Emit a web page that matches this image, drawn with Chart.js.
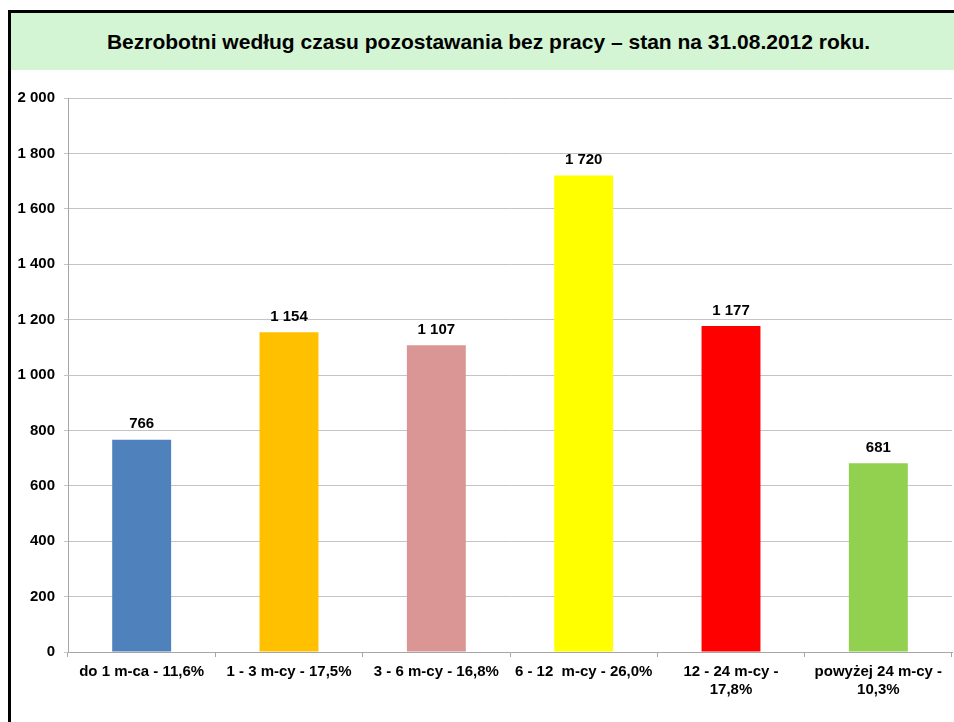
<!DOCTYPE html>
<html lang="pl">
<head>
<meta charset="utf-8">
<title>Bezrobotni według czasu pozostawania bez pracy</title>
<script src="https://cdn.jsdelivr.net/npm/chart.js@4/dist/chart.umd.min.js"></script>
<style>
	body { margin: 0; background: #fff; font-family: "Liberation Sans", Arial, sans-serif; }
	#frame {
		position: absolute; left: 8px; top: 10px; width: 970px; height: 730px;
		border-left: 3px solid #000; border-top: 3px solid #000;
	}
	#title {
		position: absolute; left: 0; top: 0; width: 955px; height: 57px;
		background: #d3f5d3; color: #000; font-weight: bold; font-size: 21px;
		line-height: 57px; text-align: center;
	}
	#wrap { position: absolute; left: 11px; top: 70px; width: 943px; height: 652px; }
</style>
</head>
<body>
<div id="frame"><div id="title">Bezrobotni według czasu pozostawania bez pracy – stan na 31.08.2012 roku.</div></div>
<div id="wrap"><canvas id="chart" width="943" height="652"></canvas></div>
<script>
	// Dane
	const categories = [
		"do 1 m-ca - 11,6%",
		"1 - 3 m-cy - 17,5%",
		"3 - 6 m-cy - 16,8%",
		"6 - 12  m-cy - 26,0%",
		["12 - 24 m-cy -", "17,8%"],
		["powyżej 24 m-cy -", "10,3%"],
	];
	const values = [766, 1154, 1107, 1720, 1177, 681];
	const barColors = ["#4f81bd", "#ffc000", "#d99694", "#ffff00", "#ff0000", "#92d050"];
	const yMax = 2000;
	const yStep = 200;

	const fmt = (v) => String(v).replace(/\B(?=(\d{3})+(?!\d))/g, " ");
	const FONT = "'Liberation Sans', Arial, sans-serif";

	// etykiety nad słupkami
	const valueLabels = {
		id: "valueLabels",
		afterDatasetsDraw(chart) {
			const ctx = chart.ctx;
			const meta = chart.getDatasetMeta(0);
			ctx.save();
			ctx.font = "bold 15px " + FONT;
			ctx.fillStyle = "#000";
			ctx.textAlign = "center";
			ctx.textBaseline = "bottom";
			meta.data.forEach((bar, i) => {
				ctx.fillText(fmt(values[i]), bar.x, bar.y - 8);
			});
			ctx.restore();
		},
	};

	new Chart(document.getElementById("chart"), {
		type: "bar",
		data: {
			labels: categories,
			datasets: [
				{
					data: values,
					backgroundColor: barColors,
					borderWidth: 0,
					categoryPercentage: 1,
					barPercentage: 0.4,
				},
			],
		},
		options: {
			responsive: false,
			animation: false,
			devicePixelRatio: 1,
			layout: { padding: { top: 28, right: 2, left: 0, bottom: 0 } },
			plugins: {
				legend: { display: false },
				tooltip: { enabled: false },
			},
			scales: {
				x: {
					afterFit: (s) => { s.height = 70; },
					grid: {
						display: true,
						drawOnChartArea: false,
						tickLength: 5,
						color: "#a6a6a6",
					},
					border: { color: "#a6a6a6" },
					ticks: {
						color: "#000",
						padding: 6,
						maxRotation: 0,
						autoSkip: false,
						font: { family: FONT, size: 15, weight: "bold", lineHeight: 1.2 },
					},
				},
				y: {
					min: 0,
					max: yMax,
					afterFit: (s) => { s.width = 57; },
					grid: { color: "#c4c4c4", tickLength: 4 },
					border: { color: "#a6a6a6" },
					ticks: {
						stepSize: yStep,
						color: "#000",
						padding: 9,
						font: { family: FONT, size: 15, weight: "bold" },
						callback: (v) => fmt(v),
					},
				},
			},
		},
		plugins: [valueLabels],
	});
</script>
</body>
</html>
